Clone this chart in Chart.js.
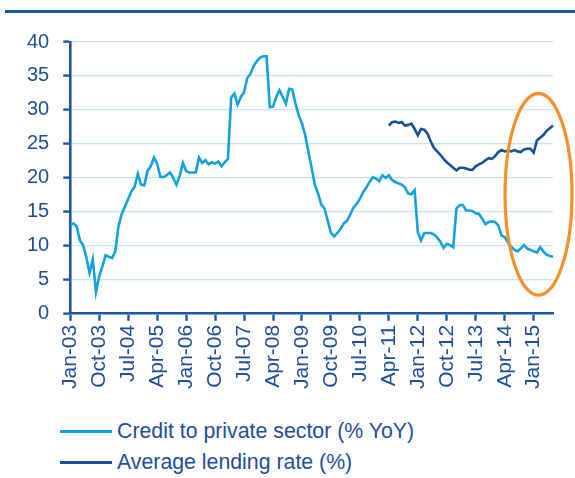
<!DOCTYPE html>
<html>
<head>
<meta charset="utf-8">
<script src="https://cdn.jsdelivr.net/npm/chart.js@4.4.1/dist/chart.umd.min.js"></script>
<style>
body { margin: 0; background: #fff; font-family: "Liberation Sans", Arial, sans-serif; }
#wrap { position: relative; width: 575px; height: 478px; overflow: hidden; }
#topline { position: absolute; left: 5px; right: 0; top: 10px; height: 3px; background: #1d56a5; }
#box { position: absolute; left: 0; top: 0; width: 575px; height: 405px; }
#legend { position: absolute; left: 60px; top: 416px; color: #1f4e9e; font-size: 21.3px; }
#legend .item { display: flex; align-items: center; height: 31px; }
#legend .swatch { width: 52px; height: 3px; margin-right: 5px; }
</style>
</head>
<body>
<div id="wrap">
  <div id="topline"></div>
  <div id="box"><canvas id="chart"></canvas></div>
  <div id="legend"></div>
</div>
<script>
// monthly, Jan-03 .. Jul-15
var MONTHS = ["Jan", "Feb", "Mar", "Apr", "May", "Jun", "Jul", "Aug", "Sep", "Oct", "Nov", "Dec"];
var labels = [];
for (var i = 0; i <= 150; i++) {
    labels.push(MONTHS[i % 12] + "-" + String(3 + Math.floor(i / 12)).padStart(2, "0"));
}

// Credit to private sector (% YoY)
var credit = [
    13.1, 13.3, 12.9, 10.8, 10.1, 8.3, 6.0, 8.0, 3.2, 5.5, 7.0, 8.6,
    8.4, 8.2, 9.2, 12.9, 14.7, 15.8, 16.9, 18.0, 18.7, 20.6, 19.0, 18.9,
    21.0, 21.7, 23.0, 22.1, 20.2, 20.1, 20.4, 20.8, 20.0, 19.0, 20.3, 22.2,
    21.0, 20.8, 20.8, 20.8, 23.0, 22.2, 22.6, 22.0, 22.3, 22.1, 22.4, 21.7,
    22.3, 22.8, 31.8, 32.4, 30.8, 31.9, 32.6, 34.7, 35.3, 36.5, 37.2, 37.7,
    37.9, 37.9, 30.4, 30.5, 31.9, 32.9, 31.9, 30.9, 33.1, 33.0, 30.9, 29.2,
    28.0, 26.3, 23.8, 21.5, 19.0, 17.7, 16.1, 15.5, 13.7, 11.9, 11.4, 11.9,
    12.5, 13.3, 13.7, 14.6, 15.6, 16.2, 16.9, 17.9, 18.6, 19.4, 20.1, 19.9,
    19.5, 20.4, 20.0, 20.4, 19.7, 19.4, 19.2, 19.0, 18.6, 17.7, 17.6, 18.2,
    12.0, 10.8, 11.9, 11.9, 11.9, 11.7, 11.2, 10.6, 9.7, 10.3, 10.1, 9.8,
    15.5, 16.0, 16.0, 15.2, 15.2, 15.1, 14.8, 14.7, 14.0, 13.2, 13.5, 13.6,
    13.5, 13.0, 11.5, 11.3, 10.5, 9.9, 9.4, 9.2, 9.6, 10.1, 9.6, 9.4,
    9.2, 9.0, 9.8, 9.2, 8.7, 8.5, 8.4
];

// Average lending rate (%), starts Apr-11
var lendingStart = 99;
var lending = [
    27.7, 28.2, 28.3, 28.1, 28.2, 27.7, 27.8, 28.0, 27.2,
    26.3, 27.2, 27.1, 26.5, 25.4, 24.4, 23.9, 23.4, 22.8, 22.3, 21.9, 21.5,
    21.1, 21.5, 21.5, 21.4, 21.2, 21.2, 21.7, 22.0, 22.2, 22.6, 22.9, 22.8,
    23.2, 23.8, 24.1, 23.9, 24.0, 23.9, 24.1, 23.9, 23.8, 24.2, 24.3, 24.3,
    23.7, 25.5, 25.9, 26.3, 26.9, 27.3, 27.7
];

// highlighted window (orange ellipse), in data units
var highlight = { x: 145.5, y: 17.6, rx: 10.4, ry: 14.85 };

var DARK = "#1f4e9e";
var AXIS = "#1d56a5";
var GRID = "#c3e4f3";

var lendingData = [];
for (var i = 0; i < lendingStart; i++) lendingData.push(null);
lendingData = lendingData.concat(lending);

var ellipsePlugin = {
    id: "ellipse",
    afterDatasetsDraw: function (chart) {
        var x = chart.scales.x, y = chart.scales.y, ctx = chart.ctx;
        var cx = x.getPixelForValue(highlight.x);
        var cy = y.getPixelForValue(highlight.y);
        var rx = Math.abs(x.getPixelForValue(highlight.x + highlight.rx) - cx);
        var ry = Math.abs(y.getPixelForValue(highlight.y + highlight.ry) - cy);
        ctx.save();
        ctx.beginPath();
        ctx.ellipse(cx, cy, rx, ry, 0, 0, Math.PI * 2);
        ctx.lineWidth = 3.2;
        ctx.strokeStyle = "#f5902a";
        ctx.stroke();
        ctx.restore();
    }
};

var datasets = [{
    label: "Credit to private sector (% YoY)",
    data: credit,
    borderColor: "#15a0e0",
    borderWidth: 2.6
}, {
    label: "Average lending rate (%)",
    data: lendingData,
    borderColor: "#1a4f9c",
    borderWidth: 2.6
}];

new Chart("chart", {
    type: "line",
    data: { labels: labels, datasets: datasets },
    options: {
        responsive: true,
        maintainAspectRatio: false,
        animation: false,
        layout: { padding: { left: 13, right: 22, top: 42, bottom: 12 } },
        elements: { point: { radius: 0 }, line: { tension: 0 } },
        plugins: { legend: { display: false }, tooltip: { enabled: false } },
        scales: {
            x: {
                type: "category",
                offset: false,
                afterFit: function (s) { s.paddingLeft = 0; s.paddingRight = 0; },
                grid: {
                    drawOnChartArea: false,
                    tickLength: 7,
                    tickWidth: 2.4,
                    tickColor: function (c) { return c.index % 9 === 0 ? AXIS : "rgba(0,0,0,0)"; }
                },
                border: { color: AXIS, width: 2.6 },
                ticks: {
                    autoSkip: false,
                    maxRotation: 90,
                    minRotation: 90,
                    padding: 4,
                    color: DARK,
                    font: { family: "'Liberation Sans', Arial", size: 21 },
                    callback: function (v, i) { return i % 9 === 0 ? labels[i] : ""; }
                }
            },
            y: {
                min: 0,
                max: 40,
                grid: { color: GRID, lineWidth: 1.2, tickColor: AXIS, tickLength: 7, tickWidth: 2.4 },
                border: { color: AXIS, width: 2.6 },
                ticks: {
                    stepSize: 5,
                    padding: 14,
                    color: DARK,
                    font: { family: "'Liberation Sans', Arial", size: 20 }
                }
            }
        }
    },
    plugins: [ellipsePlugin]
});

// legend
var legend = document.getElementById("legend");
datasets.forEach(function (d) {
    legend.insertAdjacentHTML("beforeend",
        '<div class="item"><span class="swatch" style="background:' + d.borderColor + '"></span>' + d.label + '</div>');
});
</script>
</body>
</html>
